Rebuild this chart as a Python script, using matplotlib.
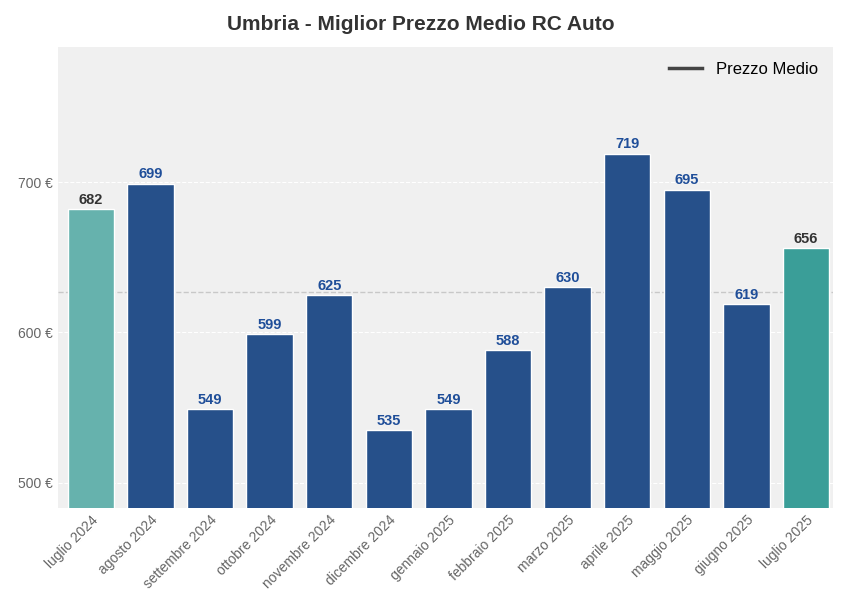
import matplotlib.pyplot as plt
import numpy as np

months = ["luglio 2024", "agosto 2024", "settembre 2024", "ottobre 2024",
          "novembre 2024", "dicembre 2024", "gennaio 2025", "febbraio 2025",
          "marzo 2025", "aprile 2025", "maggio 2025", "giugno 2025", "luglio 2025"]
prices = [682, 699, 549, 599, 625, 535, 549, 588, 630, 719, 695, 619, 656]
mean_price = 627

BLUE = "#26508a"
colors = [BLUE] * len(prices)
colors[0] = "#66b2ad"
colors[-1] = "#3a9e98"
label_colors = ["#1f4e99"] * len(prices)
label_colors[0] = label_colors[-1] = "#333333"

plt.rcParams["font.family"] = "Liberation Sans"
fig = plt.figure(figsize=(8.42, 6.10), dpi=100)
ax = fig.add_axes([0.069, 0.167, 0.92, 0.756])
ax.set_facecolor("#f0f0f0")
x = np.arange(len(prices))
ax.bar(x, prices, width=0.78, color=colors, edgecolor="white", linewidth=1, zorder=3)
for xi, p, c in zip(x, prices, label_colors):
    ax.text(xi, p + 1.5, f"{p}", ha="center", va="bottom", fontsize=10.5,
            fontweight="bold", color=c, zorder=4)
ax.axhline(mean_price, color="#c8c8c8", linestyle="--", linewidth=1, zorder=2)
ax.plot([], [], color="#444444", linewidth=2.5, label="Prezzo Medio")
ax.legend(loc="upper right", frameon=False, fontsize=12)

ax.set_ylim(483, 790)
ax.set_xlim(-0.55, len(prices) - 0.55)
ax.set_yticks([500, 600, 700])
ax.set_yticklabels(["500 €", "600 €", "700 €"])
ax.set_xticks(x)
ax.set_xticklabels(months, rotation=45, ha="right", rotation_mode="anchor")
ax.tick_params(colors="#666666", labelsize=10, length=0)
ax.grid(axis="y", color="white", linestyle="--", linewidth=0.8, zorder=1)
for s in ax.spines.values():
    s.set_visible(False)
fig.suptitle("Umbria - Miglior Prezzo Medio RC Auto", fontsize=15,
             fontweight="bold", color="#333333", y=0.975)
fig.savefig("out.png", dpi=100)
